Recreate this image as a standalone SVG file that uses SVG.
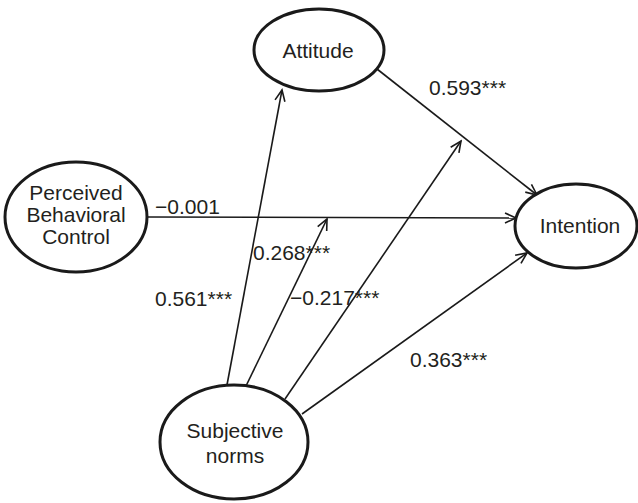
<svg xmlns="http://www.w3.org/2000/svg" width="638" height="503" viewBox="0 0 638 503">
<style>
.node{fill:#fff;stroke:#1a1a1a;stroke-width:3}
.lbl{font-family:"Liberation Sans",Arial,sans-serif;font-size:21px;fill:#231f20}
.c{text-anchor:middle}
.edge{stroke:#1a1a1a;stroke-width:1.6;fill:none}
</style>
<defs>
<marker id="arr" markerUnits="userSpaceOnUse" markerWidth="14" markerHeight="14" viewBox="-12 -7 14 14" refX="0" refY="0" orient="auto">
<path d="M-11,-5 L0,0 L-11,5" fill="none" stroke="#1a1a1a" stroke-width="1.6"/>
</marker>
</defs>
<rect width="638" height="503" fill="#fff"/>
<g id="connectors">
<line class="edge" x1="377" y1="69" x2="537" y2="195" marker-end="url(#arr)"/>
<line class="edge" x1="147" y1="217" x2="516" y2="218" marker-end="url(#arr)"/>
<line class="edge" x1="227" y1="385" x2="282" y2="90" marker-end="url(#arr)"/>
<line class="edge" x1="246" y1="386" x2="327" y2="219" marker-end="url(#arr)"/>
<line class="edge" x1="285" y1="399" x2="461" y2="141" marker-end="url(#arr)"/>
<line class="edge" x1="302" y1="414" x2="527" y2="253" marker-end="url(#arr)"/>
<text class="lbl" x="429" y="95">0.593***</text>
<text class="lbl" x="155" y="214">−0.001</text>
<text class="lbl" x="253" y="260">0.268***</text>
<text class="lbl" x="155" y="306">0.561***</text>
<text class="lbl" x="290" y="305">−0.217***</text>
<text class="lbl" x="410" y="367">0.363***</text>
</g>
<g id="attitude">
<ellipse class="node" cx="319" cy="50" rx="65" ry="41"/>
<text class="lbl c" x="318" y="58">Attitude</text>
</g>
<g id="pbc">
<ellipse class="node" cx="76" cy="217" rx="71" ry="55"/>
<text class="lbl c" x="76" y="200">Perceived</text>
<text class="lbl c" x="76" y="222">Behavioral</text>
<text class="lbl c" x="76" y="244">Control</text>
</g>
<g id="intention">
<ellipse class="node" cx="576" cy="226" rx="61" ry="42"/>
<text class="lbl c" x="580" y="233">Intention</text>
</g>
<g id="subjective">
<ellipse class="node" cx="234" cy="442" rx="74" ry="57"/>
<text class="lbl c" x="235" y="438">Subjective</text>
<text class="lbl c" x="235" y="463">norms</text>
</g>
</svg>
